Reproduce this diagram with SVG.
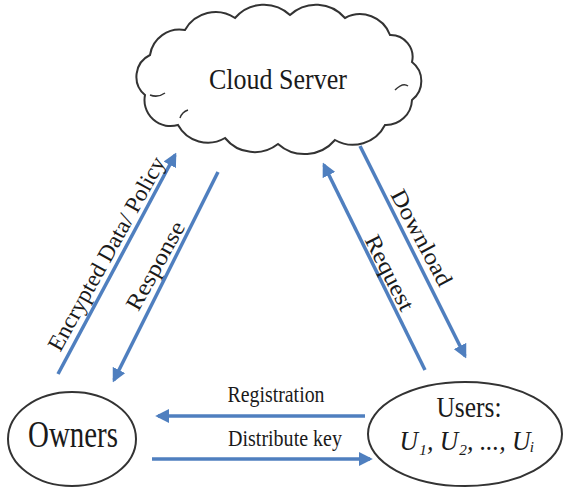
<svg xmlns="http://www.w3.org/2000/svg" width="565" height="488" viewBox="0 0 565 488">
<style>
.ln{stroke:#4f7fbf;stroke-width:3.5;fill:none;marker-end:url(#ah)}
.shape{fill:#fff;stroke:#333;stroke-width:2}
text{font-family:'Liberation Serif','Times New Roman',Tinos,serif;fill:#1a1a1a}
</style>
<defs>
<marker id="ah" viewBox="0 0 10 10" refX="8" refY="5" markerWidth="4" markerHeight="4" orient="auto" markerUnits="strokeWidth">
<path d="M0,0 L10,5 L0,10 z" fill="#4f7fbf"/>
</marker>
</defs>
<rect width="565" height="488" fill="#fff"/>
<g id="cloud">
<path class="shape" d="M145,95 A24,24 0 0 1 150,55 A30,30 0 0 1 185,30 A35,35 0 0 1 235,18 A38,38 0 0 1 290,15 A38,38 0 0 1 345,18 A32,32 0 0 1 390,35 A22,22 0 0 1 412,62 A24,24 0 0 1 412,100 A26,26 0 0 1 385,125 A36,36 0 0 1 335,140 A40,40 0 0 1 278,144 A38,38 0 0 1 225,138 A34,34 0 0 1 178,125 A26,26 0 0 1 145,95 z"/>
<path d="M150,95 Q158,98 165,93 M395,90 Q403,82 408,86 M180,118 Q182,112 188,110" fill="none" stroke="#333" stroke-width="1.5"/>
<text x="278" y="89" font-size="29" text-anchor="middle" textLength="138" lengthAdjust="spacingAndGlyphs">Cloud Server</text>
</g>
<g id="owners">
<ellipse class="shape" cx="72" cy="439" rx="64" ry="47"/>
<text x="73" y="447" font-size="38" text-anchor="middle" textLength="90" lengthAdjust="spacingAndGlyphs">Owners</text>
</g>
<g id="users">
<ellipse class="shape" cx="465" cy="434" rx="97" ry="52"/>
<text x="469" y="417" font-size="30" text-anchor="middle" textLength="65" lengthAdjust="spacingAndGlyphs">Users:</text>
<text x="467" y="450" font-size="27" text-anchor="middle" font-style="italic" textLength="135" lengthAdjust="spacingAndGlyphs">U₁, U₂, ..., Uᵢ</text>
</g>
<g id="connectors">
<line class="ln" x1="58" y1="374" x2="175" y2="155"/>
<line class="ln" x1="218" y1="172" x2="114" y2="380"/>
<line class="ln" x1="425" y1="370" x2="324" y2="165"/>
<line class="ln" x1="360" y1="146" x2="465" y2="356"/>
<line class="ln" x1="365" y1="416" x2="158" y2="416"/>
<line class="ln" x1="152" y1="459" x2="370" y2="459"/>
<text font-size="23" text-anchor="middle" transform="translate(107,254) rotate(-61)" y="7" textLength="218" lengthAdjust="spacingAndGlyphs">Encrypted Data/ Policy</text>
<text font-size="23" text-anchor="middle" transform="translate(156,266) rotate(-61)" y="7" textLength="98" lengthAdjust="spacingAndGlyphs">Response</text>
<text font-size="23" text-anchor="middle" transform="translate(421,238) rotate(62)" y="7" textLength="106" lengthAdjust="spacingAndGlyphs">Download</text>
<text font-size="23" text-anchor="middle" transform="translate(389,273) rotate(63)" y="7" textLength="82" lengthAdjust="spacingAndGlyphs">Request</text>
<text x="276" y="402" font-size="23" text-anchor="middle" textLength="97" lengthAdjust="spacingAndGlyphs">Registration</text>
<text x="285" y="446" font-size="23" text-anchor="middle" textLength="114" lengthAdjust="spacingAndGlyphs">Distribute key</text>
</g>
</svg>
